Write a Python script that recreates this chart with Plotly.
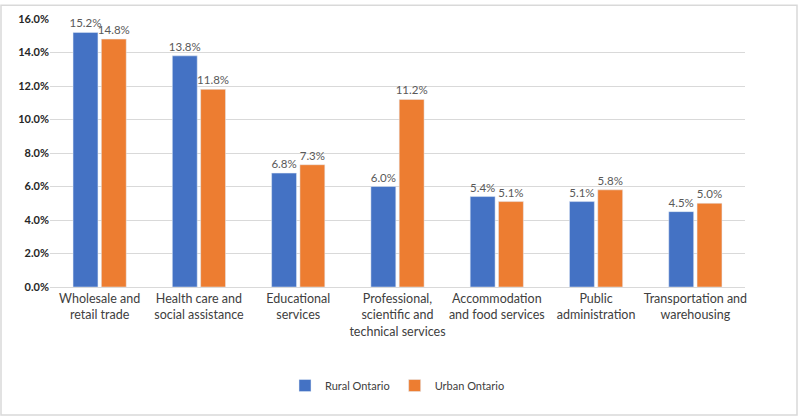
import plotly.graph_objects as go

categories = ['Wholesale and<br>retail trade', 'Health care and<br>social assistance',
              'Educational<br>services', 'Professional,<br>scientific and<br>technical services',
              'Accommodation<br>and food services', 'Public<br>administration',
              'Transportation and<br>warehousing']
rural = [15.2, 13.8, 6.8, 6.0, 5.4, 5.1, 4.5]
urban = [14.8, 11.8, 7.3, 11.2, 5.1, 5.8, 5.0]
tick_vals = [0, 2, 4, 6, 8, 10, 12, 14, 16]

W, H = 799, 419
ml, mr, mt, mb = 50, 54, 15, 132
pw, ph = W - ml - mr, H - mt - mb

fnt = 'Lato, Open Sans, sans-serif'

fig = go.Figure()
for name, vals, col in [('Rural Ontario', rural, '#4472c4'), ('Urban Ontario', urban, '#ed7d31')]:
    fig.add_trace(go.Bar(x=categories, y=vals, name=name, marker_color=col,
                         text=[f'{v:.1f}%' for v in vals], textposition='outside',
                         textangle=0, constraintext='none',
                         textfont=dict(color='#595959', size=11.5), cliponaxis=False))

fig.update_layout(
    width=W, height=H,
    margin=dict(l=ml, r=mr, t=mt, b=mb),
    paper_bgcolor='white', plot_bgcolor='white',
    font=dict(family=fnt, color='#404040', size=12),
    barmode='group', bargap=0.43, bargroupgap=0.12,
    showlegend=True,
    legend=dict(orientation='h', x=0.5, xanchor='center', y=-100 / ph, yanchor='middle',
                font=dict(size=11, color='#404040'), itemwidth=30),
    xaxis=dict(showline=True, linecolor='#d9d9d9', tickfont=dict(size=12.5, color='#404040'),
               ticks=''),
    yaxis=dict(range=[0, 16], tickvals=tick_vals, ticktext=[f'{v:.1f}%' for v in tick_vals],
               showgrid=True, gridcolor='#d9d9d9', zeroline=False,
               tickfont=dict(size=11, color='#262626', weight='bold'),
               ticks=''),
    shapes=[dict(type='rect', xref='paper', yref='paper',
                 x0=(1 - ml) / pw, x1=(W - 2 - ml) / pw,
                 y0=-(mb - 2) / ph, y1=1 + (mt - 1) / ph,
                 line=dict(color='#d9d9d9', width=1.5))],
)

fig.write_html('out.html', config={'displayModeBar': False},
               post_script="document.body.style.margin='0';document.body.style.overflow='hidden';")
